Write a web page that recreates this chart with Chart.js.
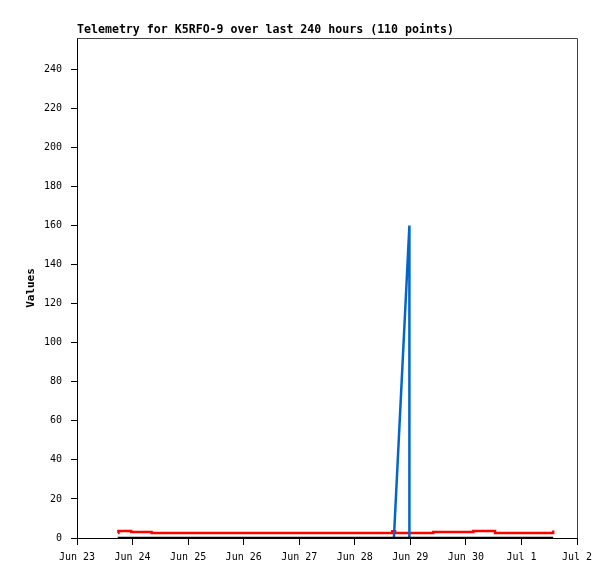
<!DOCTYPE html>
<html>
<head>
<meta charset="utf-8">
<script src="https://cdn.jsdelivr.net/npm/chart.js@4"></script>
<style>
  html, body { margin: 0; padding: 0; background: #fff; }
  #wrap { width: 615px; height: 579px; }
</style>
</head>
<body>
<div id="wrap"><canvas id="chart" width="615" height="579"></canvas></div>
<script>
// telemetria: horas desde Jun 23 00:00
const titulo = 'Telemetry for K5RFO-9 over last 240 hours (110 points)';
const xLabels = ['Jun 23','Jun 24','Jun 25','Jun 26','Jun 27','Jun 28','Jun 29','Jun 30','Jul 1','Jul 2'];
const yTicks = [0,20,40,60,80,100,120,140,160,180,200,220,240];
const yMax = 256;

const zeroHours = [17.6, 205.7];
const zeroValues = [0, 0];

const redHours = [17.7, 17.9, 23.4, 32.2, 136.2, 137.4, 153.9, 171.2, 180.6, 204.8, 205.7];
const redValues = [2.6, 3.6, 3.1, 2.6, 3.4, 2.6, 3.1, 3.6, 2.6, 2.6, 3.8];

const blueHours = [136.9, 143.6, 143.6];
const blueValues = [0, 160, 0];

const pts = (xs, ys) => xs.map((x, i) => ({ x, y: ys[i] }));
const mono = '"DejaVu Sans Mono", "Liberation Mono", monospace';

const marco = {
  id: 'marco',
  afterDraw(chart) {
    const { ctx, chartArea: a } = chart;
    ctx.save();
    // borde superior y derecho gris
    ctx.strokeStyle = '#444';
    ctx.lineWidth = 1;
    ctx.beginPath();
    ctx.moveTo(a.left, a.top + 0.5);
    ctx.lineTo(a.right + 0.5, a.top + 0.5);
    ctx.lineTo(a.right + 0.5, a.bottom);
    ctx.stroke();
    // titulo
    ctx.fillStyle = '#000';
    ctx.font = 'bold 11.6px ' + mono;
    ctx.textAlign = 'left';
    ctx.textBaseline = 'alphabetic';
    ctx.fillText(titulo, a.left, 33);
    // eje y
    ctx.translate(31, (a.top + a.bottom) / 2);
    ctx.rotate(-Math.PI / 2);
    ctx.font = 'bold 11px ' + mono;
    ctx.textAlign = 'center';
    ctx.textBaseline = 'middle';
    ctx.fillText('Values', 0, 0);
    ctx.restore();
  }
};

new Chart(document.getElementById('chart'), {
  type: 'line',
  data: {
    datasets: [
      { data: pts(zeroHours, zeroValues), borderColor: '#000', borderWidth: 2.5, order: 0 },
      { data: pts(blueHours, blueValues), borderColor: '#0066cc', borderWidth: 2.5, order: 1 },
      { data: pts(redHours, redValues), borderColor: '#ff0000', borderWidth: 2.5, stepped: 'before', order: 2 }
    ]
  },
  options: {
    responsive: false,
    animation: false,
    layout: { padding: { top: 38, right: 38, left: 0, bottom: 0 } },
    elements: { point: { radius: 0 }, line: { tension: 0, borderCapStyle: 'butt' } },
    plugins: { legend: { display: false }, tooltip: { enabled: false } },
    scales: {
      x: {
        type: 'linear',
        min: 0,
        max: 216,
        afterBuildTicks: s => { s.ticks = xLabels.map((l, i) => ({ value: i * 24 })); },
        afterFit: s => { s.height = 41; },
        ticks: {
          autoSkip: false, maxRotation: 0, padding: 6, color: '#000',
          font: { family: mono, size: 10 },
          callback: (v, i) => xLabels[i]
        },
        grid: { drawOnChartArea: false, drawTicks: true, tickLength: 7, tickColor: '#000' },
        border: { display: true, color: '#000', width: 1 }
      },
      y: {
        min: 0,
        max: yMax,
        afterBuildTicks: s => { s.ticks = yTicks.map(v => ({ value: v })); },
        afterFit: s => { s.width = 77; },
        ticks: {
          padding: 9, color: '#000',
          font: { family: mono, size: 10 }
        },
        grid: { drawOnChartArea: false, drawTicks: true, tickLength: 6, tickColor: '#000' },
        border: { display: true, color: '#000', width: 1 }
      }
    }
  },
  plugins: [marco]
});
</script>
</body>
</html>
